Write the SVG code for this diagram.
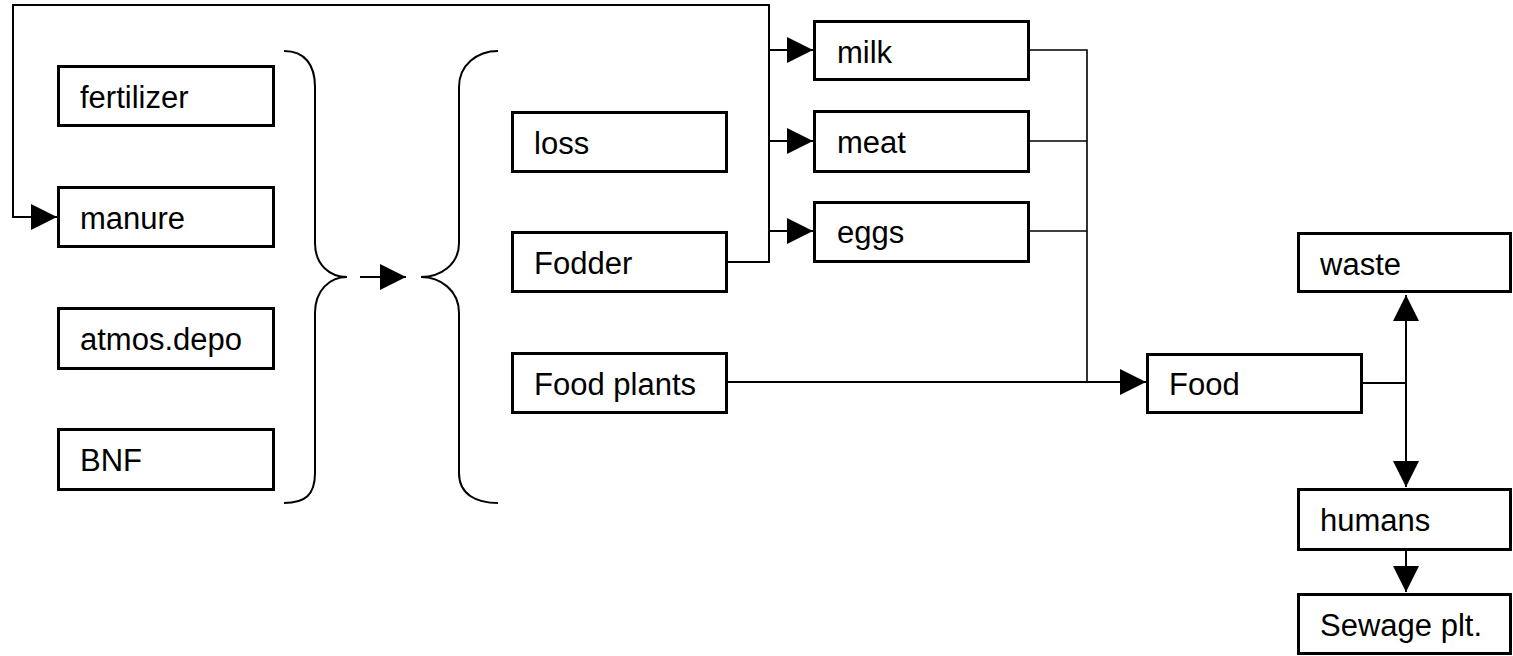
<svg xmlns="http://www.w3.org/2000/svg" width="1513" height="656" viewBox="0 0 1513 656">
<style>
.box{fill:#fff;stroke:#000;stroke-width:3}
.lbl{font-family:"Liberation Sans",Arial,sans-serif;font-size:31px;fill:#000}
.ln{fill:none;stroke:#000;stroke-width:2}
.thin{fill:none;stroke:#000;stroke-width:1.6}
.br{fill:none;stroke:#000;stroke-width:2}
</style>
<defs>
<marker id="ah" markerUnits="userSpaceOnUse" markerWidth="26" markerHeight="26" refX="26" refY="13" orient="auto" viewBox="0 0 26 26">
<path d="M0,0 L26,13 L0,26 z" fill="#000"/>
</marker>
</defs>
<rect width="1513" height="656" fill="#fff"/>
<g id="connectors">
<path class="ln" d="M723,262 H769 V5 H13 V217 H57" marker-end="url(#ah)"/>
<path class="ln" d="M769,50 H813" marker-end="url(#ah)"/>
<path class="ln" d="M769,141 H813" marker-end="url(#ah)"/>
<path class="ln" d="M769,231 H813" marker-end="url(#ah)"/>
<path class="thin" d="M1025,50 H1087 V382"/>
<path class="thin" d="M1025,141 H1087"/>
<path class="thin" d="M1025,231 H1087"/>
<path class="ln" d="M723,382 H1146" marker-end="url(#ah)"/>
<path class="ln" d="M1363,383 H1406"/>
<path class="ln" d="M1406,383 V295" marker-end="url(#ah)"/>
<path class="ln" d="M1406,383 V487" marker-end="url(#ah)"/>
<path class="ln" d="M1406,551 V592" marker-end="url(#ah)"/>
<path class="ln" d="M360,277 H406" marker-end="url(#ah)"/>
</g>
<g id="braces">
<path class="br" d="M284,51 C305,51 315,65 315,87 L315,243 C315,265 330,277 347,277 M347,277 C330,277 315,290 315,313 L315,473 C315,495 305,503 284,503"/>
<path class="br" d="M498,51 C477,51 459,65 459,87 L459,243 C459,265 440,277 421,277 M421,277 C440,277 459,290 459,313 L459,473 C459,495 477,503 498,503"/>
</g>
<g id="fertilizer"><rect class="box" x="58.5" y="66.5" width="215" height="59"/><text class="lbl" x="80" y="108">fertilizer</text></g>
<g id="manure"><rect class="box" x="58.5" y="187.5" width="215" height="59"/><text class="lbl" x="80" y="229">manure</text></g>
<g id="atmos"><rect class="box" x="58.5" y="308.5" width="215" height="60"/><text class="lbl" x="80" y="350">atmos.depo</text></g>
<g id="bnf"><rect class="box" x="58.5" y="429.5" width="215" height="60"/><text class="lbl" x="80" y="471">BNF</text></g>
<g id="loss"><rect class="box" x="512.5" y="112.5" width="214" height="59"/><text class="lbl" x="534" y="154">loss</text></g>
<g id="fodder"><rect class="box" x="512.5" y="232.5" width="214" height="59"/><text class="lbl" x="534" y="274">Fodder</text></g>
<g id="foodplants"><rect class="box" x="512.5" y="353.5" width="214" height="59"/><text class="lbl" x="534" y="395">Food plants</text></g>
<g id="milk"><rect class="box" x="814.5" y="21.5" width="214" height="58"/><text class="lbl" x="837" y="63">milk</text></g>
<g id="meat"><rect class="box" x="814.5" y="111.5" width="214" height="60"/><text class="lbl" x="837" y="153">meat</text></g>
<g id="eggs"><rect class="box" x="814.5" y="202.5" width="214" height="59"/><text class="lbl" x="837" y="243">eggs</text></g>
<g id="food"><rect class="box" x="1147.5" y="354.5" width="214" height="58"/><text class="lbl" x="1169" y="395">Food</text></g>
<g id="waste"><rect class="box" x="1298.5" y="233.5" width="212" height="58"/><text class="lbl" x="1320" y="275">waste</text></g>
<g id="humans"><rect class="box" x="1298.5" y="489.5" width="212" height="60"/><text class="lbl" x="1320" y="531">humans</text></g>
<g id="sewage"><rect class="box" x="1298.5" y="594.5" width="212" height="59"/><text class="lbl" x="1320" y="636">Sewage plt.</text></g>
</svg>
